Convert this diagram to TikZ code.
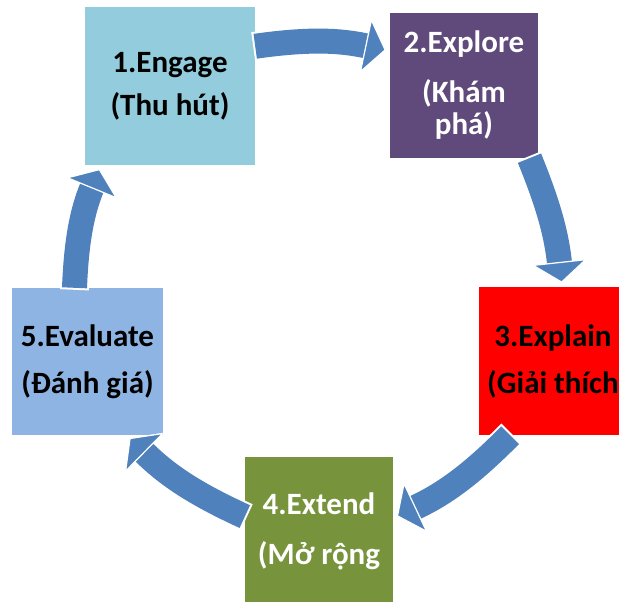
\documentclass[tikz,border=0pt]{standalone}
\usepackage{fontspec}
\setmainfont{Carlito}
\usetikzlibrary{arrows.meta}
\definecolor{engagecol}{HTML}{93CDDD}
\definecolor{explorecol}{HTML}{604A7B}
\definecolor{explaincol}{HTML}{FF0000}
\definecolor{extendcol}{HTML}{77933C}
\definecolor{evaluatecol}{HTML}{8EB4E3}
\definecolor{flowblue}{HTML}{4F81BD}

\begin{document}
\begin{tikzpicture}[x=1pt,y=1pt,
	box/.style={rectangle,inner sep=0pt,align=center,minimum width=148pt,minimum height=148pt,
		font=\fontsize{31}{32}\selectfont\bfseries},
	flow/.style={draw=flowblue,line width=25pt,shorten >=4pt,
		-{Triangle[width=56pt,length=21pt,line width=1.2pt,color=white,fill=flowblue]},
		preaction={draw=white,line width=29pt,shorten <=-2pt}}]
			\clip (0,0) rectangle (619,-602);
			% the five stages
			\node[box,fill=engagecol,minimum width=170pt,minimum height=158pt] (engage) at (170,-86) {1.Engage\\[11pt](Thu hút)};
			\node[box,fill=explorecol,text=white,minimum height=145pt] (explore) at (464,-85.5) {2.Explore\\[18pt](Khám\\phá)};
			\node[box,fill=explaincol] (explain) at (553,-361) {3.Explain\\[15pt](Giải thích};
			\node[box,fill=extendcol,text=white] (extend) at (319,-531) {4.Extend\\[18pt](Mở rộng};
			\node[box,fill=evaluatecol,minimum width=151pt,minimum height=147pt] (evaluate) at (87.5,-361.5) {5.Evaluate\\[15pt](Đánh giá)};
			% the cycle
			\draw[flow] (engage.25) to[bend left=10] (explore.155);
			\draw[flow] (explore.-48) to[bend left=8] (explain.83);
			\draw[flow] (explain.-120) to[bend left=10] (extend.10);
			\draw[flow] (extend.169) to[bend left=10] (evaluate.-62);
			\draw[flow] (evaluate.100) to[bend left=10] (engage.-131);
		\end{tikzpicture}
\end{document}
